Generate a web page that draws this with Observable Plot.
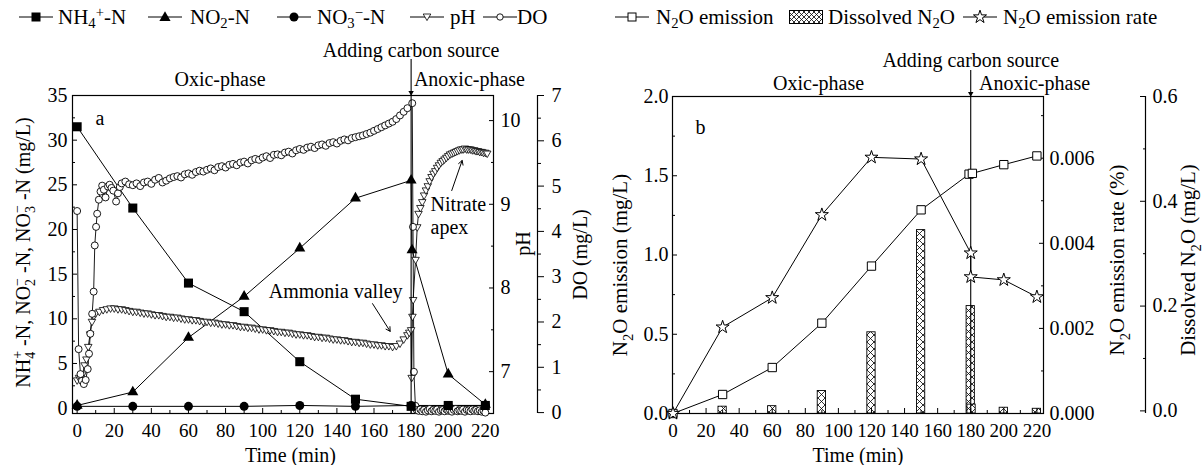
<!DOCTYPE html>
<html>
<head>
<meta charset="utf-8">
<script src="https://cdn.jsdelivr.net/npm/d3@7"></script>
<script src="https://cdn.jsdelivr.net/npm/@observablehq/plot@0.6"></script>
<style>
html,body{margin:0;padding:0;background:#fff;}
#wrap{position:relative;width:1203px;height:465px;overflow:hidden;font-family:"Liberation Serif","DejaVu Serif","Noto Serif","Times New Roman",Times,serif;color:#000;}
.panel{position:absolute;top:34px;}
.lg{position:absolute;top:0;height:34px;line-height:34px;font-size:21px;white-space:nowrap;}
.ic{position:absolute;top:7px;}
sub,sup{font-size:70%;line-height:0;position:relative;vertical-align:baseline;}
sub{top:0.3em;} sup{top:-0.45em;}
</style>
</head>
<body>
<div id="wrap">
  <div id="legend"></div>
  <div class="panel" id="pa" style="left:0"></div>
  <div class="panel" id="pb" style="left:601px"></div>
</div>
<script>
// ---------------- DATA (panel a) ----------------
const sampleTime = [0, 30, 60, 90, 120, 150, 180, 200, 220];
const nh4Values  = [31.5, 22.4, 14.0, 10.8, 5.2, 1.0, 0.2, 0.3, 0.3];
const no3Values  = [0.2, 0.2, 0.2, 0.2, 0.3, 0.2, 0.3, 0.3, 0.3];
const no2Time    = [0, 30, 60, 90, 120, 150, 180, 180.5, 200, 220];
const no2Values  = [0.3, 1.8, 7.9, 12.5, 17.9, 23.5, 25.5, 17.7, 3.8, 0.4];
// pH: [time (min), pH]
const phSeries = [
 [0,6.90],[1,6.93],[2,6.92],[3,6.97],[4,7.08],[5,7.15],[6,7.30],[7,7.45],[8,7.60],[9,7.67],[10,7.70],
 [12,7.72],[14,7.74],[16,7.75],[18,7.76],[20,7.76],[22,7.75],[24,7.75],[26,7.74],[28,7.73],[30,7.72],
 [32,7.72],[34,7.71],[36,7.70],[38,7.70],[40,7.69],[42,7.68],[44,7.68],[46,7.67],[48,7.66],[50,7.66],
 [52,7.65],[54,7.65],[56,7.64],[58,7.63],[60,7.63],[62,7.62],[64,7.62],[66,7.61],[68,7.60],[70,7.60],
 [72,7.59],[74,7.59],[76,7.58],[78,7.57],[80,7.57],[82,7.56],[84,7.56],[86,7.55],[88,7.54],[90,7.54],
 [92,7.53],[94,7.53],[96,7.52],[98,7.51],[100,7.51],[102,7.50],[104,7.50],[106,7.49],[108,7.48],[110,7.48],
 [112,7.47],[114,7.47],[116,7.46],[118,7.45],[120,7.45],[122,7.44],[124,7.44],[126,7.43],[128,7.42],[130,7.42],
 [132,7.41],[134,7.41],[136,7.40],[138,7.39],[140,7.39],[142,7.38],[144,7.38],[146,7.37],[148,7.36],[150,7.36],
 [152,7.35],[154,7.35],[156,7.34],[158,7.33],[160,7.33],[162,7.32],[164,7.32],[166,7.31],[168,7.31],[170,7.30],
 [172,7.31],[174,7.34],[176,7.39],[178,7.44],[179,7.47],[180,7.50],[180.3,6.93],[180.7,7.66],[181.1,7.86],
 [182.4,8.34],[183.3,8.73],[184,8.89],[185,8.96],[186,9.03],[187,9.11],[188,9.17],[189,9.22],[190,9.28],
 [191,9.33],[192,9.37],[193,9.40],[194,9.44],[195,9.47],[196,9.50],[197,9.52],[198,9.54],[199,9.56],[200,9.58],
 [201,9.60],[202,9.61],[203,9.62],[204,9.63],[205,9.64],[206,9.65],[207,9.66],[208,9.66],[209,9.67],[210,9.66],
 [211,9.66],[212,9.66],[213,9.65],[214,9.65],[215,9.64],[216,9.64],[217,9.63],[218,9.63],[219,9.62],[220,9.62],[221,9.61]
];
// DO: [time (min), DO mg/L]
const doSeries = [
 [0,4.45],[0.8,1.4],[1.8,0.85],[2.6,0.70],[3.6,0.63],[4.6,0.72],[5.7,0.96],[6.4,1.30],[7.1,1.74],[8.1,2.18],
 [8.9,2.67],[9.5,3.69],[10.2,4.10],[10.8,4.39],[11.7,4.70],[12.6,4.88],[13.5,5.01],[14.4,4.92],[15.3,4.75],
 [16.6,4.99],[17.5,5.03],[18.5,4.96],[19.5,4.90],[21,4.66],[22,4.84],[23,4.98],[24,5.06],[26,5.10],[28,5.04],
 [30,5.02],[32,5.06],[34,5.00],[36,5.08],[38,5.10],[40,5.05],[42,5.14],[44,5.18],[46,5.08],[48,5.12],[50,5.17],
 [52,5.20],[54,5.22],[56,5.19],[58,5.26],[60,5.28],[62,5.25],[64,5.31],[66,5.34],[68,5.32],[70,5.36],
 [72,5.39],[74,5.35],[76,5.42],[78,5.44],[80,5.41],[82,5.47],[84,5.49],[86,5.46],[88,5.52],[90,5.54],
 [92,5.50],[94,5.57],[96,5.60],[98,5.58],[100,5.63],[102,5.66],[104,5.62],[106,5.69],[108,5.70],[110,5.68],
 [112,5.74],[114,5.76],[116,5.72],[118,5.79],[120,5.82],[122,5.80],[124,5.85],[126,5.87],[128,5.84],[130,5.90],
 [132,5.92],[134,5.89],[136,5.95],[138,5.97],[140,5.94],[142,6.00],[144,6.03],[146,6.01],[148,6.06],[150,6.08],
 [152,6.10],[154,6.12],[156,6.15],[158,6.18],[160,6.22],[162,6.26],[164,6.30],[166,6.34],[168,6.38],[170,6.42],
 [172,6.48],[174,6.56],[176,6.64],[178,6.72],[180.6,6.83],[181,4.10],[181.5,0.90],[182.3,0.15],[183,0.06],
 [184,0.04],[185,0.07],[186,0.03],[187,0.06],[188,0.02],[189,0.05],[190,0.08],[191,0.03],[192,0.06],[193,0.04],
 [194,0.07],[195,0.02],[196,0.05],[197,0.06],[198,0.03],[199,0.07],[200,0.04],[201,0.05],[202,0.02],[203,0.06],
 [204,0.08],[205,0.03],[206,0.05],[207,0.04],[208,0.07],[209,0.02],[210,0.06],[211,0.05],[212,0.03],[213,0.07],
 [214,0.04],[215,0.06],[216,0.03],[217,0.05],[218,0.02],[219,0.04],[220,0.00]
];

// ---------------- DATA (panel b) ----------------
const emisTime   = [0, 30, 60, 90, 120, 150, 179, 181, 200, 220];
const emisValues = [0, 0.12, 0.29, 0.57, 0.93, 1.285, 1.51, 1.515, 1.57, 1.625];
const rateTime   = [0, 30, 60, 90, 120, 150, 180, 180, 200, 220];
const rateValues = [0, 0.00203, 0.00272, 0.00467, 0.00602, 0.00598, 0.00377, 0.00321, 0.00314, 0.00274];
const disTime    = [30, 60, 90, 120, 150, 180, 180.5, 200, 220];
const disValues  = [0.008, 0.009, 0.038, 0.15, 0.345, 0.2, 0.012, 0.006, 0.004];

// ---------------- TICKS ----------------
const xMajor = [0,20,40,60,80,100,120,140,160,180,200,220];
const xMinor = [10,30,50,70,90,110,130,150,170,190,210];
const aLeftMajor = [0,5,10,15,20,25,30,35];
const aLeftMinor = [2.5,7.5,12.5,17.5,22.5,27.5,32.5];
const phMajor = [7,8,9,10];
const phMinor = [7.5,8.5,9.5];
const doMajor = [0,1,2,3,4,5,6,7];
const doMinor = [0.5,1.5,2.5,3.5,4.5,5.5,6.5];
const bLeftMajor = [0,0.5,1.0,1.5,2.0];
const bLeftMinor = [0.25,0.75,1.25,1.75];
const rateMajor = [0,0.002,0.004,0.006];
const rateMinor = [0.001,0.003,0.005,0.007];
const disMajor = [0,0.2,0.4,0.6];
const disMinor = [0.1,0.3,0.5];

// ---------------- SCALE MAPPINGS ----------------
const FONT = '"Liberation Serif","DejaVu Serif","Noto Serif","Times New Roman",Times,serif';
const lin = (d, r) => v => r[0] + (v - d[0]) / (d[1] - d[0]) * (r[1] - r[0]);
const aX = [-2.5, 224.4], aL = [-0.6, 35], aPH = [6.5, 10.3], aDO = [-0.02, 7];
const phToL = lin(aPH, aL), lToPh = lin(aL, aPH), doToL = lin(aDO, aL), lToDo = lin(aL, aDO);
const bX = [-0.3, 224], bL = [0, 2], bRate = [0, 0.00745], bDis = [-0.005, 0.6];
const rateToL = lin(bRate, bL), lToRate = lin(bL, bRate), disToL = lin(bDis, bL), lToDis = lin(bL, bDis);
const pxA = 318 / (aL[1] - aL[0]);   // px per unit, panel a
const pxB = 317 / (bL[1] - bL[0]);   // px per unit, panel b

const triDown = {draw(ctx, size) {
  const s = Math.sqrt(size) * 0.6824, t = s / 2, u = s * Math.sqrt(3) / 2;
  ctx.moveTo(0, s); ctx.lineTo(u, -t); ctx.lineTo(-u, -t); ctx.closePath();
}};

const nh4 = sampleTime.map((t, i) => ({t, v: nh4Values[i]}));
const no3 = sampleTime.map((t, i) => ({t, v: no3Values[i]}));
const no2 = no2Time.map((t, i) => ({t, v: no2Values[i]}));
const ph = phSeries.map(([t, v]) => ({t, v: phToL(v)}));
const dox = doSeries.map(([t, v]) => ({t, v: doToL(v)}));

const ax = o => Plot.axisX({label: null, ...o});
const ay = o => Plot.axisY({label: null, ...o});
const tickOnly = {fill: "none"};
const T = (s, o) => Plot.text([s], {text: d => d, lineAnchor: "middle", textAnchor: "middle", fontSize: 20, ...o});

const plotA = Plot.plot({
  width: 601, height: 431, marginTop: 61, marginBottom: 52, marginLeft: 72, marginRight: 108,
  x: {domain: aX, label: null}, y: {domain: aL, label: null},
  style: {fontFamily: FONT, fontSize: "20px", color: "black", background: "white", overflow: "visible"},
  marks: [
    Plot.frame({stroke: "black", strokeWidth: 1.2}),
    ax({ticks: xMajor, tickSize: -5, ...tickOnly}),
    ax({ticks: xMinor, tickSize: -3, ...tickOnly}),
    ax({ticks: xMajor, tickSize: 0, tickPadding: 10, fontSize: 19}),
    ay({ticks: aLeftMajor, tickSize: -5, ...tickOnly}),
    ay({ticks: aLeftMinor, tickSize: -3, ...tickOnly}),
    ay({ticks: aLeftMajor, tickSize: 0, tickPadding: 5, fontSize: 20}),
    ay({anchor: "right", ticks: phMajor.map(phToL), tickSize: -5, ...tickOnly}),
    ay({anchor: "right", ticks: phMinor.map(phToL), tickSize: -3, ...tickOnly}),
    ay({anchor: "right", ticks: phMajor.map(phToL), tickSize: 0, tickPadding: 7, fontSize: 20,
        tickFormat: d => String(Math.round(lToPh(d)))}),
    Plot.ruleX([aX[1]], {dx: 44, stroke: "black", strokeWidth: 1.2}),
    ay({anchor: "right", dx: 44, ticks: doMajor.map(doToL), tickSize: 6, ...tickOnly}),
    ay({anchor: "right", dx: 44, ticks: doMinor.map(doToL), tickSize: 3, ...tickOnly}),
    ay({anchor: "right", dx: 44, ticks: doMajor.map(doToL), tickSize: 0, tickPadding: 14, fontSize: 20,
        tickFormat: d => String(Math.round(lToDo(d)))}),
    // axis titles
    T("NH{_4}{^+} -N, NO{_2}{^−} -N, NO{_3}{^−} -N (mg/L)", {frameAnchor: "left", dx: -49, dy: -2, rotate: -90, fontSize: 20}),
    T("pH", {frameAnchor: "right", dx: 30, dy: -11, rotate: -90}),
    T("DO (mg/L)", {frameAnchor: "right", dx: 87, dy: 0, rotate: -90}),
    T("Time (min)", {x: () => 115, frameAnchor: "bottom", dy: 42}),
    // data
    Plot.line(ph, {x: "t", y: "v", stroke: "black", strokeWidth: 0.9}),
    Plot.line(dox, {x: "t", y: "v", stroke: "black", strokeWidth: 0.9}),
    Plot.line(no3, {x: "t", y: "v", stroke: "black", strokeWidth: 1}),
    Plot.line(no2, {x: "t", y: "v", stroke: "black", strokeWidth: 1}),
    Plot.line(nh4, {x: "t", y: "v", stroke: "black", strokeWidth: 1}),
    Plot.dot(ph, {x: "t", y: "v", symbol: triDown, r: 3.6, fill: "white", stroke: "black", strokeWidth: 0.8}),
    Plot.dot(dox, {x: "t", y: "v", symbol: "circle", r: 3.5, fill: "white", stroke: "black", strokeWidth: 0.9}),
    Plot.dot(no3, {x: "t", y: "v", symbol: "circle", r: 4.5, fill: "black", stroke: "none"}),
    Plot.dot(no2, {x: "t", y: "v", symbol: "triangle", r: 4.1, fill: "black", stroke: "none"}),
    Plot.dot(nh4, {x: "t", y: "v", symbol: "square", r: 5.1, fill: "black", stroke: "none"}),
    // annotations
    Plot.ruleX([180], {y1: aL[1] + 36 / pxA, y2: aL[0], stroke: "black", strokeWidth: 1.1}),
    Plot.dot([{t: 180, v: aL[1]}], {x: "t", y: "v", symbol: triDown, r: 2.6, fill: "black", stroke: "none", dy: -3}),
    T("Adding carbon source", {x: () => 180, frameAnchor: "top", dy: -45}),
    T("Oxic-phase", {x: () => 77, frameAnchor: "top", dy: -16}),
    T("Anoxic-phase", {x: () => 181.5, frameAnchor: "top", dy: -16, textAnchor: "start"}),
    T("a", {frameAnchor: "top-left", dx: 23, dy: 23, textAnchor: "start"}),
    T("Ammonia valley", {x: () => 175.4, y: () => 13.0, textAnchor: "end"}),
    Plot.arrow([0], {x1: 159.2, y1: 11.7, x2: 168.7, y2: 8.6, stroke: "black", strokeWidth: 1, headLength: 7}),
    T("Nitrate\napex", {x: () => 190.5, y: () => 21.6, textAnchor: "start", lineHeight: 1.15}),
    Plot.arrow([0], {x1: 201.9, y1: 24.36, x2: 207.5, y2: 27.72, stroke: "black", strokeWidth: 1, headLength: 7})
  ]
});

const emis = emisTime.map((t, i) => ({t, v: emisValues[i]}));
const rate = rateTime.map((t, i) => ({t, v: rateToL(rateValues[i])}));
const dis = disTime.map((t, i) => ({t, v: disToL(disValues[i])}));

const plotB = Plot.plot({
  width: 602, height: 431, marginTop: 62, marginBottom: 52, marginLeft: 71, marginRight: 160,
  x: {domain: bX, label: null}, y: {domain: bL, label: null},
  style: {fontFamily: FONT, fontSize: "20px", color: "black", background: "white", overflow: "visible"},
  marks: [
    Plot.rect(dis, {x1: d => d.t - 2.5, x2: d => d.t + 2.5, y1: () => bL[0], y2: "v",
      fill: "url(#xhatch)", stroke: "black", strokeWidth: 0.9}),
    Plot.frame({stroke: "black", strokeWidth: 1.2}),
    ax({ticks: xMajor, tickSize: -5, ...tickOnly}),
    ax({ticks: xMinor, tickSize: -3, ...tickOnly}),
    ax({ticks: xMajor, tickSize: 0, tickPadding: 10, fontSize: 19}),
    ay({ticks: bLeftMajor, tickSize: -5, ...tickOnly}),
    ay({ticks: bLeftMinor, tickSize: -3, ...tickOnly}),
    ay({ticks: bLeftMajor, tickSize: 0, tickPadding: 4, fontSize: 20, tickFormat: d => d.toFixed(1)}),
    ay({anchor: "right", ticks: rateMajor.map(rateToL), tickSize: -5, ...tickOnly}),
    ay({anchor: "right", ticks: rateMinor.map(rateToL), tickSize: -3, ...tickOnly}),
    ay({anchor: "right", ticks: rateMajor.map(rateToL), tickSize: 0, tickPadding: 6, fontSize: 20,
        tickFormat: d => Math.abs(lToRate(d)).toFixed(3)}),
    Plot.ruleX([bX[1]], {dx: 102, stroke: "black", strokeWidth: 1.2}),
    ay({anchor: "right", dx: 102, ticks: disMajor.map(disToL), tickSize: -6, ...tickOnly}),
    ay({anchor: "right", dx: 102, ticks: disMinor.map(disToL), tickSize: -3, ...tickOnly}),
    ay({anchor: "right", dx: 102, ticks: disMajor.map(disToL), tickSize: 0, tickPadding: 7, fontSize: 20,
        tickFormat: d => Math.abs(lToDis(d)).toFixed(1)}),
    T("N{_2}O emission (mg/L)", {frameAnchor: "left", dx: -52, dy: 10, rotate: -90, fontSize: 21}),
    T("N{_2}O emission rate (%)", {frameAnchor: "right", dx: 74, dy: 5, rotate: -90, fontSize: 21}),
    T("Dissolved N{_2}O (mg/L)", {frameAnchor: "right", dx: 145, dy: 5, rotate: -90, fontSize: 21}),
    T("Time (min)", {frameAnchor: "bottom", dy: 42}),
    Plot.line(emis, {x: "t", y: "v", stroke: "black", strokeWidth: 1}),
    Plot.line(rate, {x: "t", y: "v", stroke: "black", strokeWidth: 1}),
    Plot.ruleX([180], {y1: bL[1] + 26 / pxB, y2: bL[0], stroke: "black", strokeWidth: 1.1}),
    Plot.dot([{t: 180, v: bL[1]}], {x: "t", y: "v", symbol: triDown, r: 2.6, fill: "black", stroke: "none", dy: -3}),
    Plot.dot(emis, {x: "t", y: "v", symbol: "square2", r: 5.3, fill: "white", stroke: "black", strokeWidth: 1}),
    Plot.dot(rate, {x: "t", y: "v", symbol: "star", r: 4.1, fill: "white", stroke: "black", strokeWidth: 1}),
    T("Adding carbon source", {x: () => 180, frameAnchor: "top", dy: -36}),
    T("Oxic-phase", {x: () => 88, frameAnchor: "top", dy: -13}),
    T("Anoxic-phase", {x: () => 185, frameAnchor: "top", dy: -13, textAnchor: "start"}),
    T("b", {frameAnchor: "top-left", dx: 23, dy: 31, textAnchor: "start"})
  ]
});

// hatch pattern for the dissolved N2O bars
const defs = d3.select(plotB).insert("defs", ":first-child");
const pat = defs.append("pattern").attr("id", "xhatch").attr("patternUnits", "userSpaceOnUse")
  .attr("width", 7).attr("height", 7);
pat.append("rect").attr("width", 7).attr("height", 7).attr("fill", "white");
pat.append("path").attr("d", "M0,0L7,7M7,0L0,7").attr("stroke", "black").attr("stroke-width", 0.8);

document.getElementById("pa").appendChild(plotA);
document.getElementById("pb").appendChild(plotB);

// sub/superscript markup in SVG text (run after insertion so sizes can be measured)
function richText(root) {
  root.querySelectorAll("text, tspan").forEach(n => {
    if (n.querySelector("tspan")) return;
    const s = n.textContent;
    if (!s.includes("{")) return;
    const fs = parseFloat(getComputedStyle(n).fontSize) || 20;
    n.textContent = "";
    const re = /\{([_^])([^}]*)\}|([^{]+)/g;
    let m, off = 0, prevSub = null;
    while ((m = re.exec(s))) {
      const ts = document.createElementNS("http://www.w3.org/2000/svg", "tspan");
      let target = 0;
      if (m[1]) {
        ts.textContent = m[2];
        ts.setAttribute("font-size", (fs * 0.7).toFixed(1));
        target = m[1] === "_" ? fs * 0.25 : -fs * 0.4;
      } else ts.textContent = m[3];
      if (target !== off) ts.setAttribute("dy", (target - off).toFixed(1));
      off = target;
      n.appendChild(ts);
      if (m[1] === "^" && prevSub) ts.setAttribute("dx", (-prevSub.getComputedTextLength()).toFixed(1));
      prevSub = m[1] === "_" ? ts : null;
    }
  });
}
richText(plotA); richText(plotB);

// ---------------- LEGEND ----------------
const legendLabels = ["NH<sub>4</sub><sup>+</sup>-N", "NO<sub>2</sub>-N", "NO<sub>3</sub><sup>−</sup>-N", "pH", "DO",
  "N<sub>2</sub>O emission", "Dissolved N<sub>2</sub>O", "N<sub>2</sub>O emission rate"];
const legendIcons = ["sqF", "triF", "cirF", "triO", "cirO", "sqO", "hatch", "star"];
const legendIconX = [19, 148, 277, 410, 483, 615, 789, 963];
const legendTextX = [58, 190, 317, 450, 517, 656, 828, 1003];
const starPath = d3.symbol(d3.symbolStar, Math.PI * 4.1 * 4.1)();
function iconSvg(kind) {
  const line = '<line x1="0" y1="10" x2="34" y2="10" stroke="#000" stroke-width="1"/>';
  const body = {
    sqF: line + '<rect x="12.5" y="5.5" width="9" height="9" fill="#000"/>',
    triF: line + '<path d="M17,4.3L22.6,14L11.4,14Z" fill="#000"/>',
    cirF: line + '<circle cx="17" cy="10" r="4.5" fill="#000"/>',
    triO: line + '<path d="M13.2,7L20.8,7L17,13.6Z" fill="#fff" stroke="#000" stroke-width="0.8"/>',
    cirO: line + '<circle cx="17" cy="10" r="3.2" fill="#fff" stroke="#000" stroke-width="0.9"/>',
    sqO: line + '<rect x="13" y="6" width="8" height="8" fill="#fff" stroke="#000"/>',
    hatch: '<defs><pattern id="xhatchL" patternUnits="userSpaceOnUse" width="5" height="5"><rect width="5" height="5" fill="#fff"/><path d="M0,0L5,5M5,0L0,5" stroke="#000" stroke-width="0.8"/></pattern></defs><rect x="0.5" y="3.5" width="33" height="13" fill="url(#xhatchL)" stroke="#000"/>',
    star: line + `<path transform="translate(17,10)" d="${starPath}" fill="#fff" stroke="#000"/>`
  }[kind];
  return `<svg width="34" height="20" viewBox="0 0 34 20">${body}</svg>`;
}
const leg = document.getElementById("legend");
legendLabels.forEach((lab, i) => {
  const ic = document.createElement("div");
  ic.className = "ic"; ic.style.left = legendIconX[i] + "px"; ic.innerHTML = iconSvg(legendIcons[i]);
  leg.appendChild(ic);
  const tx = document.createElement("div");
  tx.className = "lg"; tx.style.left = legendTextX[i] + "px"; tx.innerHTML = lab;
  leg.appendChild(tx);
});
</script>
</body>
</html>
